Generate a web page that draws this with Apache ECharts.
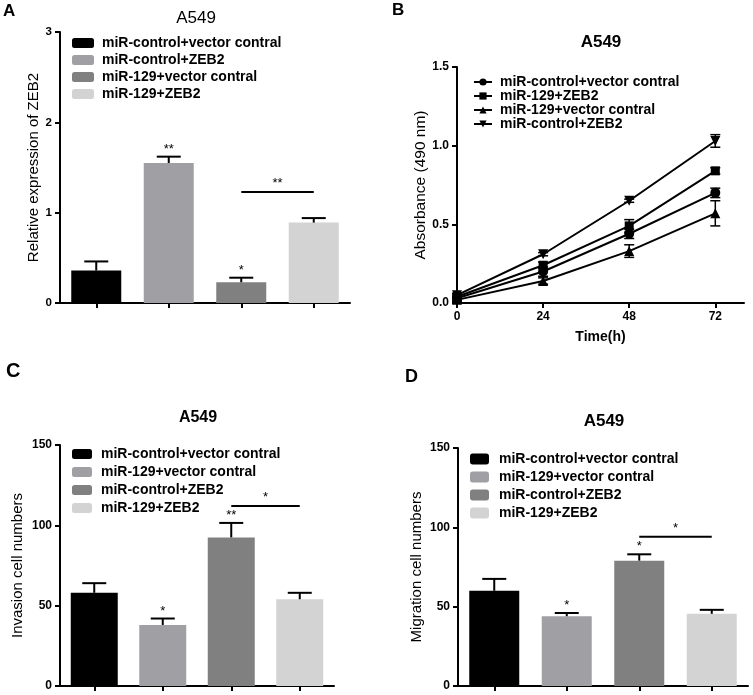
<!DOCTYPE html>
<html><head><meta charset="utf-8">
<script src="https://cdn.jsdelivr.net/npm/echarts@6/dist/echarts.min.js"></script>
<style>html,body{margin:0;padding:0;background:#fff}#c{width:753px;height:695px}</style>
</head><body><div id="c"></div>
<script>
// ---------- data ----------
const barCats = ['1', '2', '3', '4'];
const barColors = ['#000000', '#a0a0a4', '#808080', '#d3d3d3'];

// Panel A
const namesA = ['miR-control+vector contral', 'miR-control+ZEB2', 'miR-129+vector contral', 'miR-129+ZEB2'];
const meanA = [0.36, 1.55, 0.23, 0.89];
const errA = [0.10, 0.07, 0.05, 0.05];
const starA = ['', '**', '*', ''];
const sigA = [2, 3, 1.23, '**'];

// Panel B
const timesB = [0, 24, 48, 72];
const namesB = ['miR-control+vector contral', 'miR-129+ZEB2', 'miR-129+vector contral', 'miR-control+ZEB2'];
const valB1 = [0.03, 0.20, 0.44, 0.70];
const errB1 = [0.01, 0.03, 0.03, 0.03];
const valB2 = [0.04, 0.24, 0.49, 0.84];
const errB2 = [0.01, 0.02, 0.04, 0.02];
const valB3 = [0.02, 0.14, 0.33, 0.57];
const errB3 = [0.01, 0.02, 0.04, 0.08];
const valB4 = [0.05, 0.31, 0.65, 1.03];
const errB4 = [0.01, 0.01, 0.01, 0.04];
const xTicksB = [0, 24, 48, 72];

// Panel C
const namesC = ['miR-control+vector contral', 'miR-129+vector contral', 'miR-control+ZEB2', 'miR-129+ZEB2'];
const meanC = [58, 38, 92.5, 54];
const errC = [6, 4, 9, 4];
const starC = ['', '*', '**', ''];
const sigC = [2, 3, 112, '*'];

// Panel D
const namesD = ['miR-control+vector contral', 'miR-129+vector contral', 'miR-control+ZEB2', 'miR-129+ZEB2'];
const meanD = [60, 44, 79, 45.5];
const errD = [7.5, 2, 4, 2.5];
const starD = ['', '*', '*', ''];
const sigD = [2, 3, 94, '*'];

// ---------- helpers ----------
const FF = '"Liberation Sans", Arial, sans-serif';
const chart = echarts.init(document.getElementById('c'));

function barSeries(gi, prefix, names, means, bw) {
  return names.map((n, i) => ({
    name: prefix + '|' + n, type: 'bar', xAxisIndex: gi, yAxisIndex: gi,
    barWidth: bw, barGap: '-100%',
    itemStyle: { color: barColors[i] },
    data: means.map((v, j) => (j === i ? v : '-')),
    silent: true
  }));
}
function barErrSeries(gi, means, errs, stars, capW) {
  return {
    type: 'custom', xAxisIndex: gi, yAxisIndex: gi, z: 5, silent: true,
    data: means.map((m, i) => [i, m, errs[i]]),
    renderItem(params, api) {
      const i = api.value(0), m = api.value(1), e = api.value(2);
      const p0 = api.coord([i, m]), p1 = api.coord([i, m + e]);
      const st = stars[params.dataIndex];
      const ch = [
        { type: 'line', shape: { x1: p0[0], y1: p0[1], x2: p1[0], y2: p1[1] }, style: { stroke: '#000', lineWidth: 2 } },
        { type: 'line', shape: { x1: p1[0] - capW / 2, y1: p1[1], x2: p1[0] + capW / 2, y2: p1[1] }, style: { stroke: '#000', lineWidth: 2 } }
      ];
      if (st) ch.push({ type: 'text', style: { text: st, x: p1[0], y: p1[1] - 1, align: 'center', verticalAlign: 'bottom', font: '13px ' + FF, fill: '#000' } });
      return { type: 'group', children: ch };
    }
  };
}
function sigSeries(gi, sig) {
  return {
    type: 'custom', xAxisIndex: gi, yAxisIndex: gi, z: 5, silent: true,
    data: [[sig[0], sig[1], sig[2]]],
    renderItem(params, api) {
      const a = api.coord([api.value(0), api.value(2)]);
      const b = api.coord([api.value(1), api.value(2)]);
      return { type: 'group', children: [
        { type: 'line', shape: { x1: a[0], y1: a[1], x2: b[0], y2: b[1] }, style: { stroke: '#000', lineWidth: 2 } },
        { type: 'text', style: { text: sig[3], x: (a[0] + b[0]) / 2, y: a[1] - 2, align: 'center', verticalAlign: 'bottom', font: '13px ' + FF, fill: '#000' } }
      ] };
    }
  };
}
function lineErrSeries(gi, xs, vals, errs) {
  return {
    type: 'custom', xAxisIndex: gi, yAxisIndex: gi, z: 5, silent: true,
    data: xs.map((x, i) => [x, vals[i], errs[i]]),
    renderItem(params, api) {
      const x = api.value(0), v = api.value(1), e = api.value(2);
      const t = api.coord([x, v + e]), b = api.coord([x, v - e]);
      const w = 5;
      return { type: 'group', children: [
        { type: 'line', shape: { x1: t[0], y1: t[1], x2: b[0], y2: b[1] }, style: { stroke: '#000', lineWidth: 1.5 } },
        { type: 'line', shape: { x1: t[0] - w, y1: t[1], x2: t[0] + w, y2: t[1] }, style: { stroke: '#000', lineWidth: 1.5 } },
        { type: 'line', shape: { x1: b[0] - w, y1: b[1], x2: b[0] + w, y2: b[1] }, style: { stroke: '#000', lineWidth: 1.5 } }
      ] };
    }
  };
}
const fmtName = n => n.split('|')[1];
function barLegend(prefix, names, left, top, iw, ih, gap, pad) {
  return {
    data: names.map(n => prefix + '|' + n), orient: 'vertical', left, top,
    itemWidth: iw, itemHeight: ih, itemGap: gap, icon: 'roundRect', selectedMode: false,
    formatter: fmtName, padding: 0,
    textStyle: { fontFamily: FF, fontSize: 14, fontWeight: 'bold', color: '#000', lineHeight: 14, padding: [0, 0, 0, pad] }
  };
}
const axisLineStyle = { show: true, lineStyle: { color: '#000', width: 2 } };
function catX(gi) {
  return { type: 'category', gridIndex: gi, data: barCats, axisLine: axisLineStyle,
    axisTick: { show: true, alignWithLabel: true, length: 5, lineStyle: { color: '#000', width: 2 } },
    axisLabel: { show: false }, splitLine: { show: false } };
}
function valY(gi, max, interval, name, nameGap, fs, nfs, fmt) {
  return { type: 'value', gridIndex: gi, min: 0, max, interval, name, nameLocation: 'middle', nameGap,
    nameTextStyle: { fontFamily: FF, fontSize: nfs, color: '#000' },
    axisLine: axisLineStyle, axisTick: { show: true, length: 5, lineStyle: { color: '#000', width: 2 } },
    axisLabel: { fontFamily: FF, fontSize: fs, fontWeight: 'bold', color: '#000', margin: 8, formatter: fmt },
    splitLine: { show: false } };
}
const markers = ['circle', 'rect', 'triangle', 'triangle'];
const rots = [0, 0, 0, 180];
const valsB = [valB1, valB2, valB3, valB4];
const errsB = [errB1, errB2, errB3, errB4];

const lineSeries = namesB.map((n, i) => ({
  name: 'B|' + n, type: 'line', xAxisIndex: 1, yAxisIndex: 1,
  data: timesB.map((t, j) => [t, valsB[i][j]]),
  symbol: markers[i], symbolRotate: rots[i], symbolSize: i === 1 ? 9 : 10,
  lineStyle: { color: '#000', width: 2 }, itemStyle: { color: '#000' },
  silent: true, z: 3
}));

const option = {
  animation: false,
  backgroundColor: '#fff',
  textStyle: { fontFamily: FF },
  title: [
    { text: 'A', left: 3, top: 3, padding: 0, textStyle: { fontFamily: FF, fontSize: 17, fontWeight: 'bold', color: '#000' } },
    { text: 'B', left: 392, top: 2, padding: 0, textStyle: { fontFamily: FF, fontSize: 17, fontWeight: 'bold', color: '#000' } },
    { text: 'C', left: 6, top: 361, padding: 0, textStyle: { fontFamily: FF, fontSize: 20, fontWeight: 'bold', color: '#000' } },
    { text: 'D', left: 405, top: 368, padding: 0, textStyle: { fontFamily: FF, fontSize: 18, fontWeight: 'bold', color: '#000' } },
    { text: 'A549', left: 196, top: 10, textAlign: 'center', padding: 0, textStyle: { fontFamily: FF, fontSize: 17, fontWeight: 'normal', color: '#000' } },
    { text: 'A549', left: 601, top: 34, textAlign: 'center', padding: 0, textStyle: { fontFamily: FF, fontSize: 17, fontWeight: 'bold', color: '#000' } },
    { text: 'A549', left: 198, top: 410, textAlign: 'center', padding: 0, textStyle: { fontFamily: FF, fontSize: 16, fontWeight: 'bold', color: '#000' } },
    { text: 'A549', left: 604, top: 413, textAlign: 'center', padding: 0, textStyle: { fontFamily: FF, fontSize: 17, fontWeight: 'bold', color: '#000' } }
  ],
  legend: [
    barLegend('A', namesA, 72, 36, 22, 10, 3, 3),
    {
      data: namesB.map(n => 'B|' + n), orient: 'vertical', left: 473, top: 75,
      itemWidth: 18, itemHeight: 9, itemGap: 0, selectedMode: false, formatter: fmtName, padding: 0,
      textStyle: { fontFamily: FF, fontSize: 14, fontWeight: 'bold', color: '#000', lineHeight: 14, padding: [0, 0, 0, 3] }
    },
    barLegend('C', namesC, 72, 447, 20, 10, 4, 4),
    barLegend('D', namesD, 470, 452, 19, 11, 4, 5)
  ],
  grid: [
    { left: 60, top: 32, width: 290, height: 271 },
    { left: 457, top: 67, width: 287, height: 236 },
    { left: 60, top: 445, width: 274, height: 241 },
    { left: 458, top: 448, width: 290, height: 238 }
  ],
  xAxis: [
    catX(0),
    { type: 'value', gridIndex: 1, min: 0, max: 80, interval: 24, name: 'Time(h)', nameLocation: 'middle', nameGap: 27,
      nameTextStyle: { fontFamily: FF, fontSize: 14, fontWeight: 'bold', color: '#000' },
      axisLine: axisLineStyle,
      axisTick: { show: true, length: 5, customValues: xTicksB, lineStyle: { color: '#000', width: 2 } },
      axisLabel: { fontFamily: FF, fontSize: 12, fontWeight: 'bold', color: '#000', margin: 8, customValues: xTicksB },
      splitLine: { show: false } },
    catX(2),
    catX(3)
  ],
  yAxis: [
    valY(0, 3, 1, 'Relative expression of ZEB2', 19, 11.5, 15),
    valY(1, 1.5, 0.5, 'Absorbance (490 nm)', 27, 12, 15.5, v => v.toFixed(1)),
    valY(2, 150, 50, 'Invasion cell numbers', 35, 12, 15),
    valY(3, 150, 50, 'Migration cell numbers', 34, 12, 15)
  ],
  series: [
    ...barSeries(0, 'A', namesA, meanA, 50),
    barErrSeries(0, meanA, errA, starA, 24),
    sigSeries(0, sigA),
    ...lineSeries,
    ...valsB.map((v, i) => lineErrSeries(1, timesB, v, errsB[i])),
    ...barSeries(2, 'C', namesC, meanC, 47),
    barErrSeries(2, meanC, errC, starC, 24),
    sigSeries(2, sigC),
    ...barSeries(3, 'D', namesD, meanD, 50),
    barErrSeries(3, meanD, errD, starD, 24),
    sigSeries(3, sigD)
  ]
};
chart.setOption(option);
</script>
</body></html>
